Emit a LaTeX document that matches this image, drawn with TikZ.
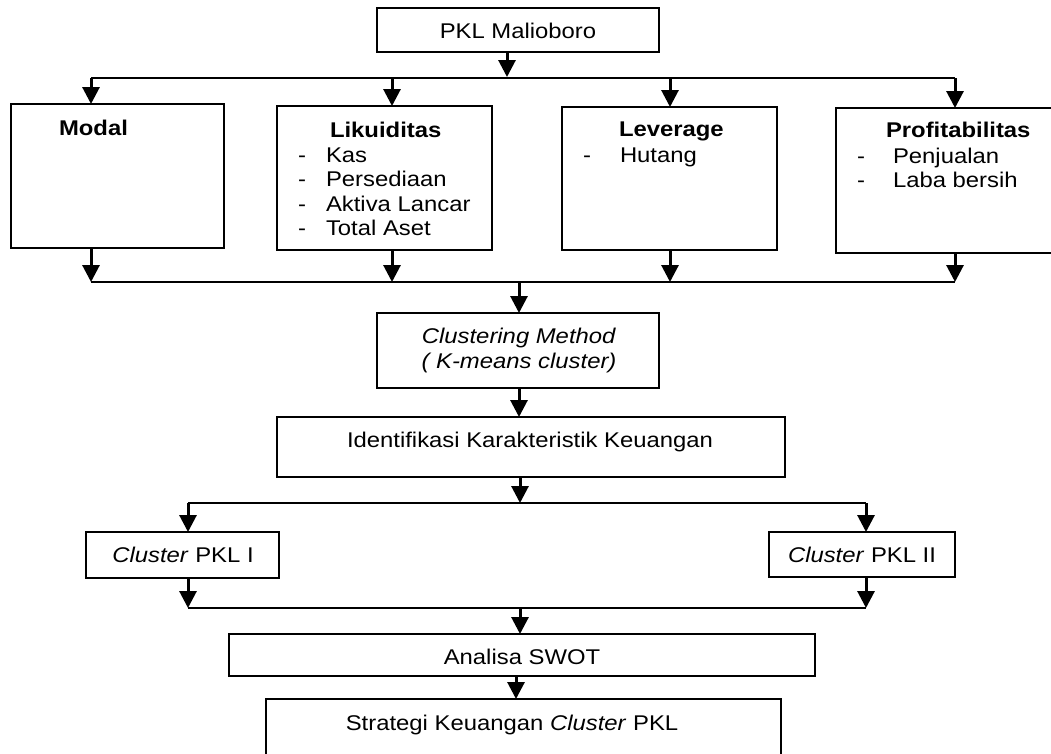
\documentclass[tikz,border=0pt]{standalone}
\usepackage{fontspec}
\setmainfont{Liberation Sans}[FakeStretch=1.12]
\usetikzlibrary{arrows.meta}
\tikzset{
  box/.style={draw, line width=1.8pt, inner sep=0pt, outer sep=0pt, anchor=north west},
  lbl/.style={inner sep=0pt, outer sep=0pt, anchor=base west},
  clbl/.style={inner sep=0pt, outer sep=0pt, anchor=base},
  bus/.style={line width=1.7pt},
  arr/.style={line width=3pt, -{Triangle[width=17pt,length=17pt]}}
}
\begin{document}
\begin{tikzpicture}[x=1pt,y=-1pt, font=\fontsize{21.3pt}{24.5pt}\selectfont]
\useasboundingbox (0,0) rectangle (1051,753);
\clip (0,0) rectangle (1051,753);
% boxes
\node[box, minimum width=282pt, minimum height=44pt] (pkl) at (377,8) {};
\node[box, minimum width=213pt, minimum height=144pt] (modal) at (11,104) {};
\node[box, minimum width=215pt, minimum height=144pt] (lik) at (277,106) {};
\node[box, minimum width=215pt, minimum height=143pt] (lev) at (562,107) {};
\node[box, minimum width=240pt, minimum height=145pt] (prof) at (836,108) {};
\node[box, minimum width=282pt, minimum height=75pt] (clus) at (377,313) {};
\node[box, minimum width=508pt, minimum height=60pt] (iden) at (277,417) {};
\node[box, minimum width=193pt, minimum height=46pt] (c1) at (86,532) {};
\node[box, minimum width=186pt, minimum height=45pt] (c2) at (769,532) {};
\node[box, minimum width=586pt, minimum height=42pt] (swot) at (229,634) {};
\node[box, minimum width=515pt, minimum height=80pt] (strat) at (266,699) {};
% texts
\node[clbl] (tpkl) at (518,38) {PKL Malioboro};
\node[lbl] (tmodal) at (59,135) {\textbf{Modal}};
\node[lbl] (tlik) at (330,137) {\textbf{Likuiditas}};
\node[lbl] (dl1) at (298,162) {-};
\node[lbl] (dl2) at (298,186) {-};
\node[lbl] (dl3) at (298,211) {-};
\node[lbl] (dl4) at (298,235) {-};
\node[lbl] (il1) at (326,162) {Kas};
\node[lbl] (il2) at (326,186) {Persediaan};
\node[lbl] (il3) at (326,211) {Aktiva Lancar};
\node[lbl] (il4) at (326,235) {Total Aset};
\node[lbl] (tlev) at (619,136) {\textbf{Leverage}};
\node[lbl] (dv1) at (583,162) {-};
\node[lbl] (iv1) at (620,162) {Hutang};
\node[lbl] (tprof) at (886,137) {\textbf{Profitabilitas}};
\node[lbl] (dp1) at (857,163) {-};
\node[lbl] (dp2) at (857,187) {-};
\node[lbl] (ip1) at (893,163) {Penjualan};
\node[lbl] (ip2) at (893,187) {Laba bersih};
\node[clbl] (tclus1) at (519,343) {\textit{Clustering Method}};
\node[clbl] (tclus2) at (519,368) {\textit{( K-means cluster)}};
\node[clbl] (tiden) at (530,447) {Identifikasi Karakteristik Keuangan};
\node[clbl] (tc1) at (183,562) {\textit{Cluster} PKL I};
\node[clbl] (tc2) at (862,562) {\textit{Cluster} PKL II};
\node[clbl] (tswot) at (522,664) {Analisa SWOT};
\node[clbl] (tstrat) at (512,730) {Strategi Keuangan \textit{Cluster} PKL};
% bus coordinates
\coordinate (topL) at (91,78);  \coordinate (topR) at (955,78);
\coordinate (midL) at (91,282); \coordinate (midR) at (955,282);
\coordinate (spL) at (188,503); \coordinate (spR) at (866,503);
\coordinate (mgL) at (188,608); \coordinate (mgR) at (866,608);
\draw[bus] (topL) -- (topR);
\draw[bus] (midL) -- (midR);
\draw[bus] (spL) -- (spR);
\draw[bus] (mgL) -- (mgR);
% arrows
\draw[arr] (pkl.south -| 507,0) -- (507,77);
\draw[arr] (topL) -- (modal.north -| topL);
\draw[arr] (392,78) -- (lik.north -| 392,0);
\draw[arr] (670,78) -- (lev.north -| 670,0);
\draw[arr] (topR) -- (prof.north -| topR);
\draw[arr] (modal.south -| midL) -- (midL);
\draw[arr] (lik.south -| 392,0) -- (392,282);
\draw[arr] (lev.south -| 670,0) -- (670,282);
\draw[arr] (prof.south -| midR) -- (midR);
\draw[arr] (519,282) -- (clus.north -| 519,0);
\draw[arr] (clus.south -| 519,0) -- (iden.north -| 519,0);
\draw[arr] (iden.south -| 520,0) -- (520,503);
\draw[arr] (spL) -- (c1.north -| spL);
\draw[arr] (spR) -- (c2.north -| spR);
\draw[arr] (c1.south -| mgL) -- (mgL);
\draw[arr] (c2.south -| mgR) -- (mgR);
\draw[arr] (520,608) -- (swot.north -| 520,0);
\draw[arr] (swot.south -| 516,0) -- (strat.north -| 516,0);
\end{tikzpicture}
\end{document}
